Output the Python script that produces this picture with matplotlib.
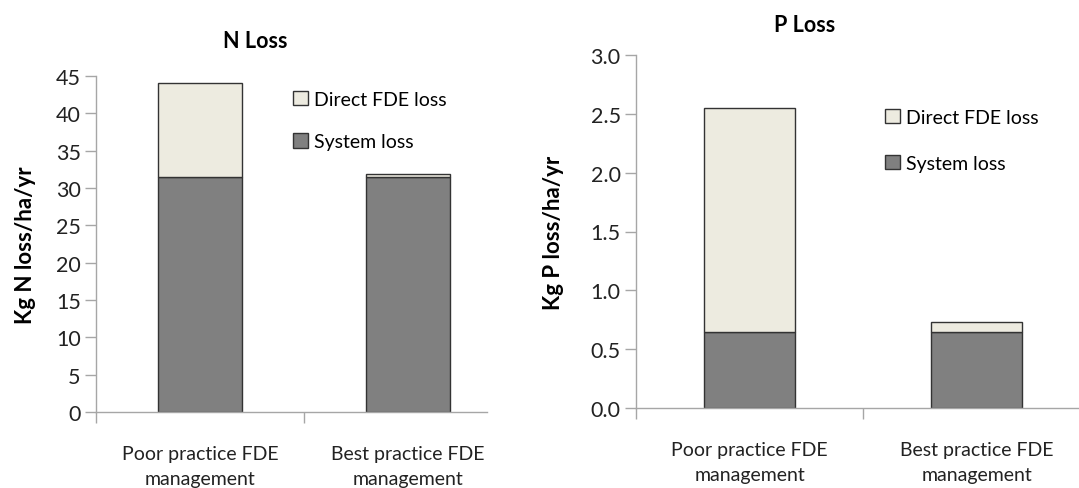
import numpy as np
import matplotlib
matplotlib.use("Agg")
from matplotlib import pyplot as plt
from matplotlib.patches import Patch

plt.rcParams['font.family'] = ['Lato', 'DejaVu Sans']

# data
categories = ["Poor practice FDE\nmanagement", "Best practice FDE\nmanagement"]
n_system = [31.5, 31.5]
n_direct = [12.5, 0.35]
p_system = [0.65, 0.65]
p_direct = [1.90, 0.08]
n_ticks = [0, 5, 10, 15, 20, 25, 30, 35, 40, 45]
p_ticks = [0.0, 0.5, 1.0, 1.5, 2.0, 2.5, 3.0]

sys_color = "#808080"
direct_color = "#EDEBE0"
edge = "#333333"
axis_grey = "#A6A6A6"

W, H = 1079, 489
fig = plt.figure(figsize=(W / 100, H / 100), dpi=100)


def draw_panel(rect, system, direct, ticks, fmt, xmax, title, ylabel, title_xy, leg_xy,
               leg_space, ypad):
    ax = fig.add_axes(rect)
    x = np.arange(len(categories))
    ax.bar(x, system, width=0.40, color=sys_color, edgecolor=edge, linewidth=1.0,
           label="System loss")
    ax.bar(x, direct, width=0.40, bottom=system, color=direct_color, edgecolor=edge,
           linewidth=1.0, label="Direct FDE loss")
    ax.set_yticks(ticks)
    ax.set_yticklabels([fmt.format(t) for t in ticks], fontsize=15.5, color="#222222")
    ax.set_xticks(x)
    ax.set_xticklabels(categories, fontsize=14, color="#222222", linespacing=1.55)
    ax.set_xticks([-0.5, 0.5], minor=True)
    ax.set_xlim(-0.5, xmax)
    ax.set_ylim(ticks[0], ticks[-1])
    ax.tick_params(axis="x", which="major", length=0, pad=24)
    ax.tick_params(axis="x", which="minor", length=8, width=1, color=axis_grey, direction="out")
    ax.tick_params(axis="y", length=8, width=1, color=axis_grey, direction="out", pad=3)
    for s in ["top", "right"]:
        ax.spines[s].set_visible(False)
    for s in ["left", "bottom"]:
        ax.spines[s].set_color(axis_grey)
        ax.spines[s].set_linewidth(1)
    ax.set_ylabel(ylabel, fontsize=16, fontweight="bold", labelpad=ypad)
    fig.text(title_xy[0] / W, 1 - title_xy[1] / H, title, fontsize=15.5, fontweight="bold",
             ha="center", va="center")
    handles = [Patch(facecolor=direct_color, edgecolor=edge, linewidth=1.0),
               Patch(facecolor=sys_color, edgecolor=edge, linewidth=1.0)]
    fig.legend(handles, ["Direct FDE loss", "System loss"], loc="upper left",
               bbox_to_anchor=(leg_xy[0] / W, 1 - leg_xy[1] / H), frameon=False,
               fontsize=14, handlelength=0.75, handleheight=0.75, handletextpad=0.35,
               labelspacing=leg_space, borderaxespad=0, borderpad=0)
    return ax


draw_panel([96 / W, 76 / H, 391 / W, 336 / H], n_system, n_direct, n_ticks, "{:d}",
           1.38, "N Loss", "Kg N loss/ha/yr", (255, 42), (293, 92), 1.3, 14)
draw_panel([636 / W, 80 / H, 443 / W, 353 / H], p_system, p_direct, p_ticks, "{:.1f}",
           1.45, "P Loss", "Kg P loss/ha/yr", (805, 25), (885, 110), 1.48, 19)

fig.savefig("out.png", dpi=100)
